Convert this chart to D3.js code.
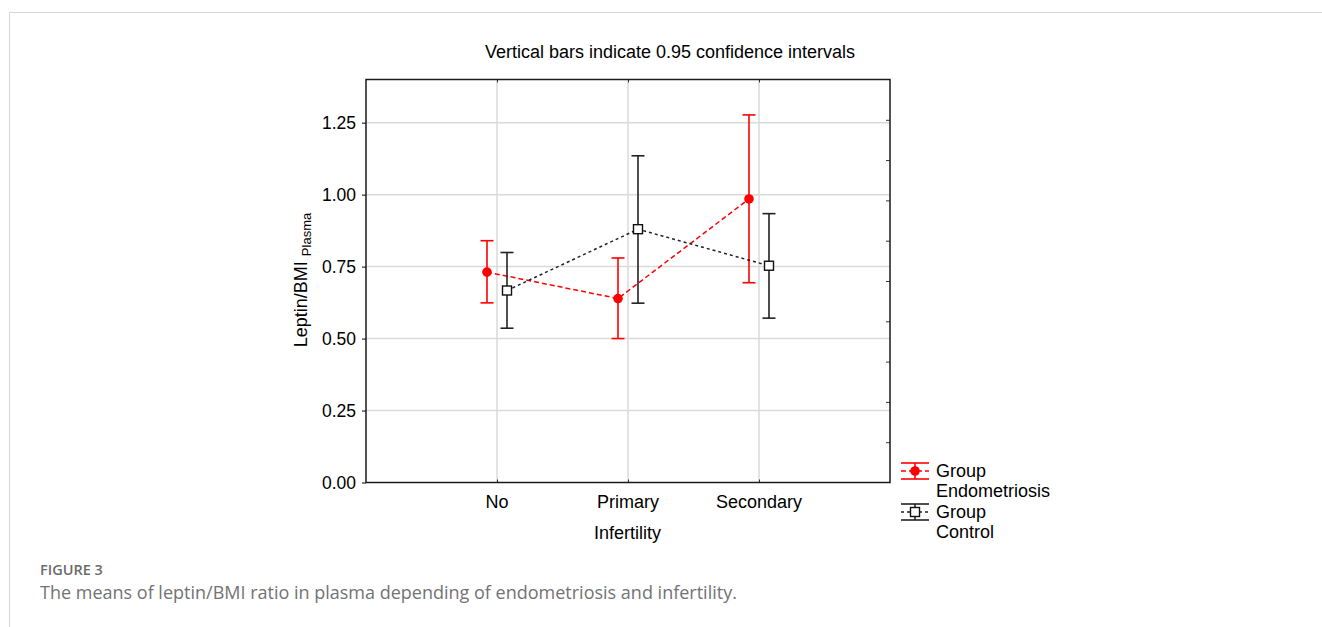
<!DOCTYPE html>
<html>
<head>
<meta charset="utf-8">
<script src="https://cdn.jsdelivr.net/npm/d3@7"></script>
<style>
  body { margin: 0; background: #fff; }
  text { font-family: "Liberation Sans", Arial, sans-serif; }
  .caption text { font-family: "Open Sans", sans-serif; }
</style>
</head>
<body>
<svg width="1322" height="627"></svg>
<script>
// chart data
var categories = ["No", "Primary", "Secondary"];
var endoMean  = [0.731, 0.639, 0.985];
var endoLow   = [0.624, 0.500, 0.694];
var endoHigh  = [0.840, 0.780, 1.277];
var ctrlMean  = [0.667, 0.880, 0.753];
var ctrlLow   = [0.536, 0.623, 0.571];
var ctrlHigh  = [0.799, 1.135, 0.934];
var yTicks = [0, 0.25, 0.5, 0.75, 1.0, 1.25];

(function() {
  var svg = d3.select("svg");

  // page frame
  svg.append("path")
      .attr("d", "M9.5,627V12.5H1322")
      .attr("fill", "none")
      .attr("stroke", "#d6d6d6")
      .attr("stroke-width", 1);

  var left = 366, right = 890, top = 79.5, bottom = 482.5;

  var x = d3.scaleLinear()
      .domain([0, categories.length + 1])
      .range([left, right]);

  var y = d3.scaleLinear()
      .domain([0, 1.4])
      .range([bottom, top]);

  var groups = [
    { name: "Endometriosis", mean: endoMean, low: endoLow, high: endoHigh, color: "#ff0000", shift: -10, dash: "5,3" },
    { name: "Control", mean: ctrlMean, low: ctrlLow, high: ctrlHigh, color: "#222", shift: 10, dash: "3,3" }
  ];

  // grid
  svg.append("g")
    .selectAll("line")
    .data(yTicks.slice(1))
    .enter().append("line")
      .attr("x1", left).attr("x2", right)
      .attr("y1", function(d) { return y(d); })
      .attr("y2", function(d) { return y(d); })
      .attr("stroke", "#dadada")
      .attr("stroke-width", 1.5);

  svg.append("g")
    .selectAll("line")
    .data(categories)
    .enter().append("line")
      .attr("x1", function(d, i) { return x(i + 1); })
      .attr("x2", function(d, i) { return x(i + 1); })
      .attr("y1", top).attr("y2", bottom)
      .attr("stroke", "#dadada")
      .attr("stroke-width", 1.5);

  // left axis
  svg.append("g")
      .attr("transform", "translate(" + left + ",0)")
      .call(d3.axisLeft(y)
        .tickValues(yTicks)
        .tickSize(4)
        .tickPadding(6)
        .tickFormat(d3.format(".2f")))
      .call(function(g) {
        g.select(".domain").remove();
        g.selectAll("text").attr("font-size", 17.5).attr("font-family", "Liberation Sans, Arial, sans-serif").attr("fill", "#000");
        g.selectAll("line").attr("stroke", "#000");
      });

  // right axis: inner ticks every tenth of the range
  svg.append("g")
      .attr("transform", "translate(" + right + ",0)")
      .call(d3.axisLeft(y)
        .tickValues(d3.range(1, 10).map(function(k) { return k * 0.14; }))
        .tickSize(4)
        .tickFormat(""))
      .call(function(g) {
        g.select(".domain").remove();
        g.selectAll("line").attr("stroke", "#333");
      });

  // bottom axis
  svg.append("g")
      .attr("transform", "translate(0," + bottom + ")")
      .call(d3.axisTop(x)
        .tickValues([1, 2, 3])
        .tickSize(3)
        .tickFormat(""))
      .call(function(g) {
        g.select(".domain").remove();
        g.selectAll("line").attr("stroke", "#333");
      });

  svg.append("g")
    .selectAll("text")
    .data(categories)
    .enter().append("text")
      .attr("x", function(d, i) { return x(i + 1); })
      .attr("y", bottom + 25)
      .attr("text-anchor", "middle")
      .attr("font-size", 18)
      .text(function(d) { return d; });

  // top ticks
  svg.append("g")
      .attr("transform", "translate(0," + top + ")")
      .call(d3.axisBottom(x)
        .tickValues([1, 2, 3])
        .tickSize(3)
        .tickFormat(""))
      .call(function(g) {
        g.select(".domain").remove();
        g.selectAll("line").attr("stroke", "#333");
      });

  // box
  svg.append("rect")
      .attr("x", left).attr("y", top)
      .attr("width", right - left).attr("height", bottom - top)
      .attr("fill", "none")
      .attr("stroke", "#1a1a1a")
      .attr("stroke-width", 1.5);

  // series
  groups.forEach(function(g) {
    var px = function(i) { return x(i + 1) + g.shift; };
    var line = d3.line()
        .x(function(d, i) { return px(i); })
        .y(function(d) { return y(d); });

    svg.append("path")
        .datum(g.mean)
        .attr("d", line)
        .attr("fill", "none")
        .attr("stroke", g.color)
        .attr("stroke-width", 1.5)
        .attr("stroke-dasharray", g.dash);

    var bars = svg.append("g")
        .attr("stroke", g.color)
        .attr("stroke-width", 1.6);

    g.mean.forEach(function(m, i) {
      bars.append("line")
          .attr("x1", px(i)).attr("x2", px(i))
          .attr("y1", y(g.low[i])).attr("y2", y(g.high[i]));
      [g.low[i], g.high[i]].forEach(function(v) {
        bars.append("line")
            .attr("x1", px(i) - 6.5).attr("x2", px(i) + 6.5)
            .attr("y1", y(v)).attr("y2", y(v));
      });
    });

    if (g.name === "Endometriosis") {
      svg.append("g").selectAll("circle")
        .data(g.mean)
        .enter().append("circle")
          .attr("cx", function(d, i) { return px(i); })
          .attr("cy", function(d) { return y(d); })
          .attr("r", 4.8)
          .attr("fill", g.color);
    } else {
      svg.append("g").selectAll("rect")
        .data(g.mean)
        .enter().append("rect")
          .attr("x", function(d, i) { return px(i) - 4.5; })
          .attr("y", function(d) { return y(d) - 4.5; })
          .attr("width", 9).attr("height", 9)
          .attr("fill", "#fff")
          .attr("stroke", "#111")
          .attr("stroke-width", 1.4);
    }
  });

  // titles
  svg.append("text")
      .attr("x", 670).attr("y", 58)
      .attr("text-anchor", "middle")
      .attr("font-size", 18)
      .text("Vertical bars indicate 0.95 confidence intervals");

  svg.append("text")
      .attr("x", (left + right) / 2 - 0.5).attr("y", bottom + 56)
      .attr("text-anchor", "middle")
      .attr("font-size", 18)
      .text("Infertility");

  var yl = svg.append("text")
      .attr("transform", "translate(307," + 280 + ") rotate(-90)")
      .attr("text-anchor", "middle")
      .attr("font-size", 18);
  yl.append("tspan").text("Leptin/BMI ");
  yl.append("tspan").attr("font-size", 13).attr("dy", 4).text("Plasma");

  // legend
  var legend = svg.append("g");
  groups.forEach(function(g, k) {
    var ly = 471 + k * 41;
    var lg = legend.append("g").attr("stroke", g.color);
    lg.append("line").attr("x1", 901).attr("x2", 929).attr("y1", ly - 8).attr("y2", ly - 8).attr("stroke-width", 1.6);
    lg.append("line").attr("x1", 901).attr("x2", 929).attr("y1", ly + 8).attr("y2", ly + 8).attr("stroke-width", 1.6);
    lg.append("line").attr("x1", 915).attr("x2", 915).attr("y1", ly - 8).attr("y2", ly + 8).attr("stroke-width", 1.6);
    lg.append("line").attr("x1", 901).attr("x2", 929).attr("y1", ly).attr("y2", ly)
        .attr("stroke-width", 1.5).attr("stroke-dasharray", g.dash);
    if (k === 0) {
      legend.append("circle").attr("cx", 915).attr("cy", ly).attr("r", 4.8).attr("fill", g.color);
    } else {
      legend.append("rect").attr("x", 910.5).attr("y", ly - 4.5).attr("width", 9).attr("height", 9)
          .attr("fill", "#fff").attr("stroke", "#111").attr("stroke-width", 1.4);
    }
    legend.append("text").attr("x", 936).attr("y", ly + 6).attr("font-size", 18).text("Group");
    legend.append("text").attr("x", 936).attr("y", ly + 26).attr("font-size", 18).text(g.name);
  });

  // figure caption
  var cap = svg.append("g").attr("class", "caption");
  cap.append("text")
      .attr("x", 40).attr("y", 575)
      .attr("font-size", 14.5)
      .attr("font-weight", 600)
      .attr("fill", "#6b6b6b")
      .text("FIGURE 3");
  cap.append("text")
      .attr("x", 40).attr("y", 599)
      .attr("font-size", 18)
      .attr("fill", "#737373")
      .text("The means of leptin/BMI ratio in plasma depending of endometriosis and infertility.");
})();
</script>
</body>
</html>
